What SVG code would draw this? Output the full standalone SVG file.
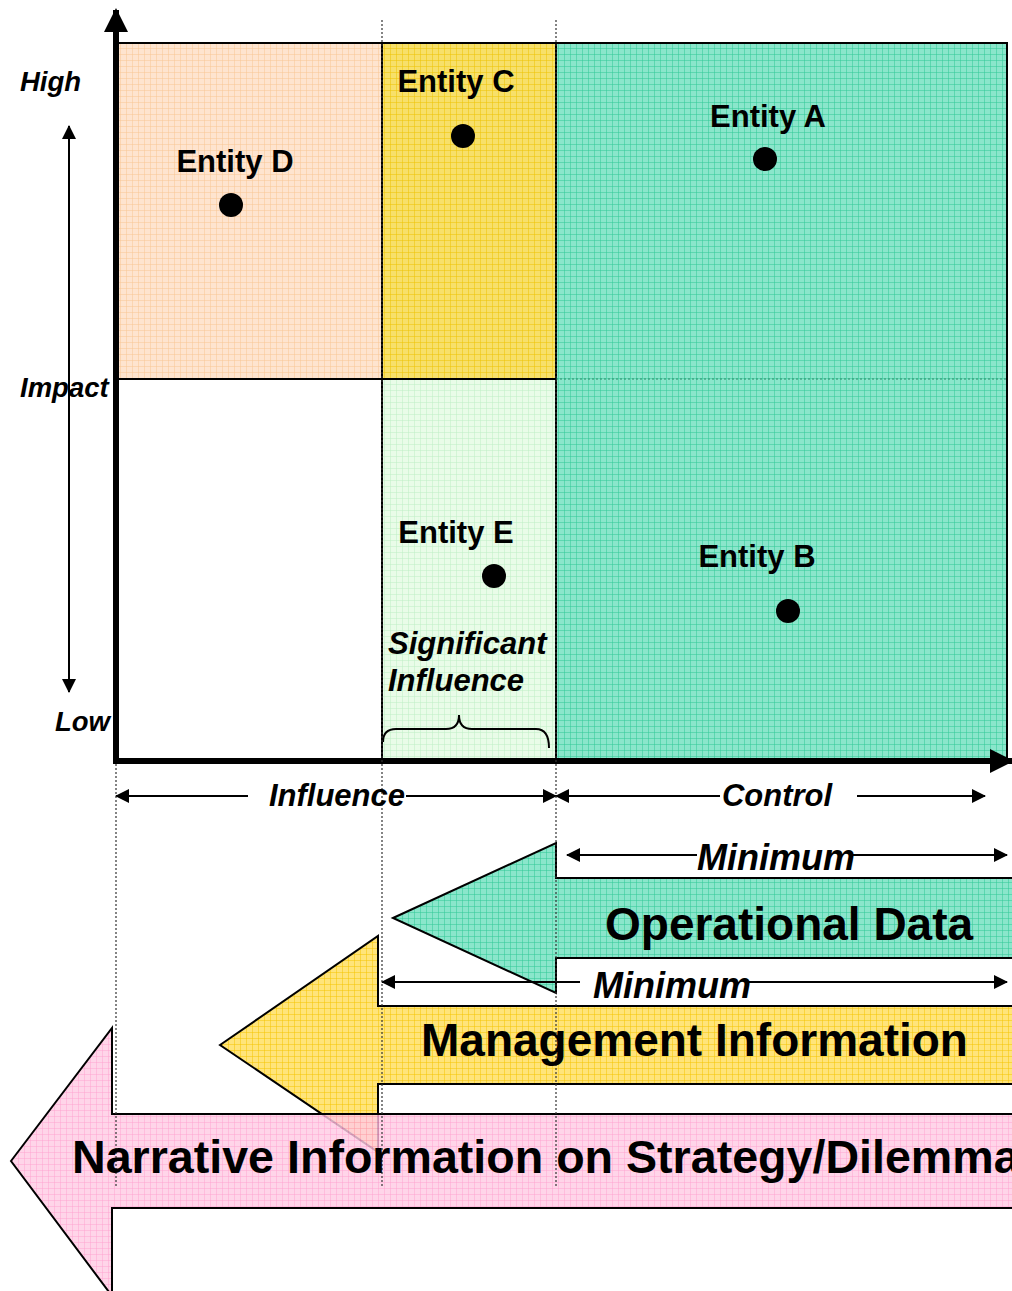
<svg xmlns="http://www.w3.org/2000/svg" width="1012" height="1291" viewBox="0 0 1012 1291">
<defs>
<pattern id="pOrange" width="6" height="6" patternUnits="userSpaceOnUse"><rect width="6" height="6" fill="#FEE4CF"/><path d="M0 0H6M0 0V6" stroke="#F9C694" stroke-width="1"/></pattern>
<pattern id="pYellow" width="6" height="6" patternUnits="userSpaceOnUse"><rect width="6" height="6" fill="#F7E06A"/><path d="M0 0H6M0 0V6" stroke="#EEC300" stroke-width="1"/></pattern>
<pattern id="pGreen" width="6" height="6" patternUnits="userSpaceOnUse"><rect width="6" height="6" fill="#8AE6CB"/><path d="M0 0H6M0 0V6" stroke="#2FC996" stroke-width="1"/></pattern>
<pattern id="pLight" width="6" height="6" patternUnits="userSpaceOnUse"><rect width="6" height="6" fill="#E9FCE8"/><path d="M0 0H6M0 0V6" stroke="#BDEFC4" stroke-width="1"/></pattern>
<pattern id="pYellow2" width="6" height="6" patternUnits="userSpaceOnUse"><rect width="6" height="6" fill="#FFE47A"/><path d="M0 0H6M0 0V6" stroke="#F5C400" stroke-width="1"/></pattern>
<pattern id="pPink" width="6" height="6" patternUnits="userSpaceOnUse"><rect width="6" height="6" fill="#FFCCE4"/><path d="M0 0H6M0 0V6" stroke="#FF90C6" stroke-width="1"/></pattern>
<marker id="ah" viewBox="0 0 14 14" refX="13" refY="7" markerWidth="14" markerHeight="14" markerUnits="userSpaceOnUse" orient="auto-start-reverse"><path d="M0 0L14 7L0 14Z" fill="#000"/></marker>
<marker id="ahBig" viewBox="0 0 24 24" refX="22" refY="12" markerWidth="24" markerHeight="24" markerUnits="userSpaceOnUse" orient="auto"><path d="M0 0L24 12L0 24Z" fill="#000"/></marker>
</defs>
<style>
.lbl{font-family:"Liberation Sans",Arial,sans-serif;font-weight:bold;fill:#000}
.ent{font-size:31px}
.ax{font-size:27.5px;font-style:italic}
.ax2{font-size:31px;font-style:italic}
.min{font-size:36px;font-style:italic}
.big{font-size:46px}
.big2{font-size:46.6px}
.thin{stroke:#000;stroke-width:2;fill:none}
.dot{stroke:#333;stroke-width:1.2;stroke-dasharray:2 2;fill:none}
.arrowshape{stroke:#000;stroke-width:2;stroke-linejoin:miter}
</style>
<rect width="1012" height="1291" fill="#fff"/>

<g id="quadrant-d"><rect x="116" y="43" width="266" height="336" fill="url(#pOrange)"/></g>
<g id="quadrant-c"><rect x="382" y="43" width="174" height="336" fill="url(#pYellow)"/></g>
<g id="quadrant-a"><rect x="556" y="43" width="451" height="336" fill="url(#pGreen)"/></g>
<g id="quadrant-low-influence"><rect x="116" y="379" width="266" height="382" fill="#fff"/></g>
<g id="quadrant-e"><rect x="382" y="379" width="174" height="382" fill="url(#pLight)"/></g>
<g id="quadrant-b"><rect x="556" y="379" width="451" height="382" fill="url(#pGreen)"/></g>

<g id="grid-lines">
<path d="M116 43H1008M1007 43V761M382 43V761M556 43V761M116 379H556" class="thin" stroke-width="1.5"/>
<path d="M556 379H1007" stroke="#2a8a6a" stroke-width="1" stroke-dasharray="2 2"/>
</g>

<g id="arrow-management">
<path d="M220 1045L378 936V1006H1020V1084H378V1152Z" fill="url(#pYellow2)" class="arrowshape"/>
</g>
<g id="arrow-operational">
<path d="M393 918L556 843V878H1020V958H556V993Z" fill="url(#pGreen)" class="arrowshape"/>
</g>
<g id="arrow-narrative">
<path d="M11 1161L112 1028V1114H1020V1208H112V1296Z" fill="url(#pPink)" fill-opacity="0.82" class="arrowshape"/>
</g>

<g id="connectors">
<line x1="116" y1="763" x2="116" y2="10" stroke="#000" stroke-width="6" marker-end="url(#ahBig)"/>
<line x1="113" y1="761" x2="1012" y2="761" stroke="#000" stroke-width="6" marker-end="url(#ahBig)"/>
<line x1="69" y1="126" x2="69" y2="692" class="thin" marker-start="url(#ah)" marker-end="url(#ah)"/>
<path d="M383 742Q383 729 396 729L446 729Q459 729 459 715Q459 729 472 729L536 729Q549 729 549 748" class="thin"/>
<line x1="116" y1="796" x2="248" y2="796" class="thin" marker-start="url(#ah)"/>
<line x1="406" y1="796" x2="556" y2="796" class="thin" marker-end="url(#ah)"/>
<line x1="556" y1="796" x2="720" y2="796" class="thin" marker-start="url(#ah)"/>
<line x1="857" y1="796" x2="985" y2="796" class="thin" marker-end="url(#ah)"/>
<line x1="567" y1="855" x2="697" y2="855" class="thin" marker-start="url(#ah)"/>
<line x1="853" y1="855" x2="1007" y2="855" class="thin" marker-end="url(#ah)"/>
<line x1="382" y1="982" x2="580" y2="982" class="thin" marker-start="url(#ah)"/>
<line x1="745" y1="982" x2="1007" y2="982" class="thin" marker-end="url(#ah)"/>
<path d="M382 20V1188M556 20V1188M116 764V1188" class="dot"/>
</g>

<g id="entity-d"><circle cx="231" cy="205" r="12"/><text x="235" y="172" text-anchor="middle" class="lbl ent">Entity D</text></g>
<g id="entity-c"><circle cx="463" cy="136" r="12"/><text x="456" y="92" text-anchor="middle" class="lbl ent">Entity C</text></g>
<g id="entity-a"><circle cx="765" cy="159" r="12"/><text x="768" y="127" text-anchor="middle" class="lbl ent">Entity A</text></g>
<g id="entity-e"><circle cx="494" cy="576" r="12"/><text x="456" y="543" text-anchor="middle" class="lbl ent">Entity E</text></g>
<g id="entity-b"><circle cx="788" cy="611" r="12"/><text x="757" y="567" text-anchor="middle" class="lbl ent">Entity B</text></g>

<g id="labels">
<text x="388" y="654" class="lbl ent" font-style="italic">Significant</text>
<text x="388" y="691" class="lbl ent" font-style="italic">Influence</text>
<text x="20" y="91" class="lbl ax">High</text>
<text x="20" y="397" class="lbl ax">Impact</text>
<text x="55" y="731" class="lbl ax">Low</text>
<text x="337" y="806" text-anchor="middle" class="lbl ax2">Influence</text>
<text x="777" y="806" text-anchor="middle" class="lbl ax2">Control</text>
<text x="776" y="870" text-anchor="middle" class="lbl min">Minimum</text>
<text x="672" y="998" text-anchor="middle" class="lbl min">Minimum</text>
<text x="605" y="940" class="lbl big">Operational Data</text>
<text x="421" y="1056" class="lbl big">Management Information</text>
<text x="72" y="1173" class="lbl big2">Narrative Information on Strategy/Dilemma</text>
</g>
</svg>
